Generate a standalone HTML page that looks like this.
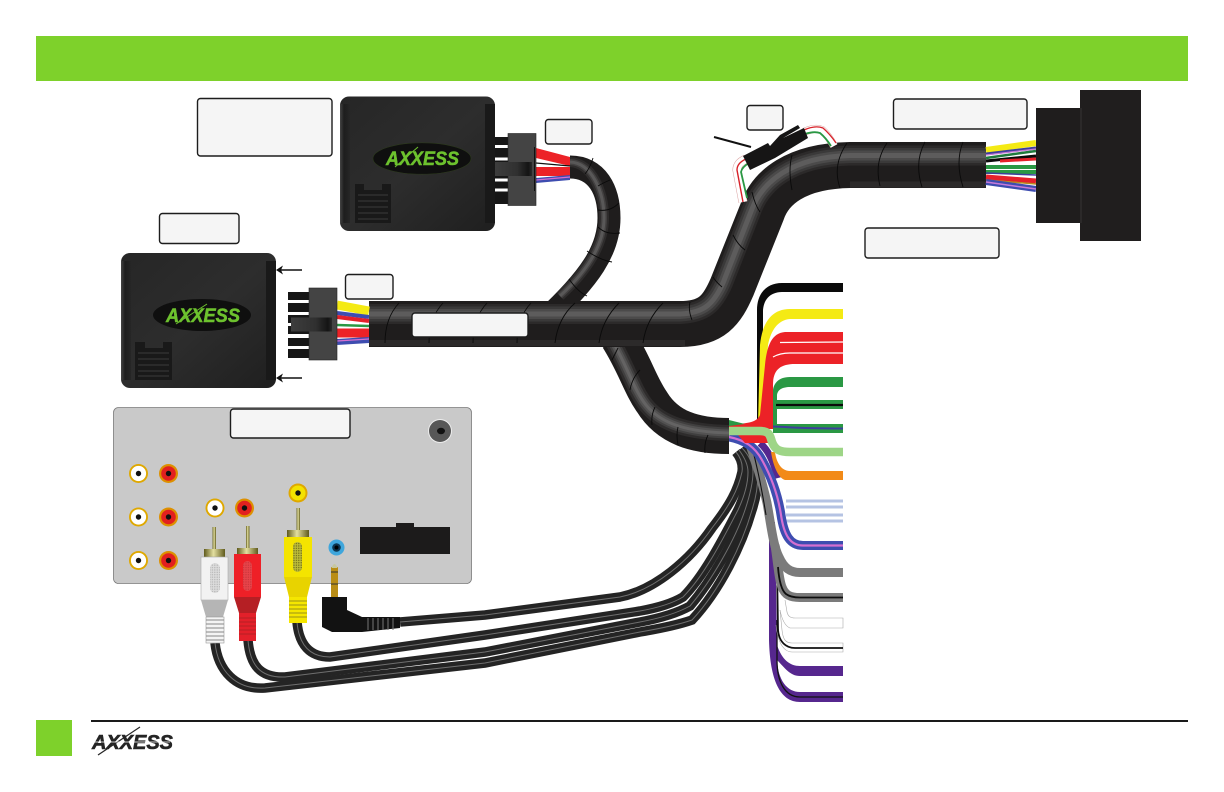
<!DOCTYPE html>
<html>
<head>
<meta charset="utf-8">
<style>
html,body{margin:0;padding:0;background:#fff;width:1224px;height:792px;overflow:hidden}
svg{display:block}
.lb{fill:#f5f5f5;stroke:#1d1d1d;stroke-width:1.4}
.logo{font-family:"Liberation Sans",sans-serif;font-weight:bold;font-style:italic}
.sp{fill:none;stroke:#0a0a0a;stroke-width:.9}
.tl{fill:none;stroke:#aaa;stroke-width:.6}
</style>
</head>
<body>
<svg width="1224" height="792" viewBox="0 0 1224 792" xmlns="http://www.w3.org/2000/svg">
<defs>
<linearGradient id="mod" x1="0" y1="0" x2="1" y2="1"><stop offset="0" stop-color="#262626"/><stop offset=".5" stop-color="#2d2d2d"/><stop offset="1" stop-color="#1f1f1f"/></linearGradient>
<linearGradient id="edgeL" x1="0" x2="1" y1="0" y2="0"><stop offset="0" stop-color="#444"/><stop offset=".4" stop-color="#1d1d1d"/><stop offset="1" stop-color="#262626"/></linearGradient>
<linearGradient id="clip" x1="0" x2="1" y1="0" y2="0"><stop offset="0" stop-color="#3d3d3d"/><stop offset=".6" stop-color="#303030"/><stop offset=".9" stop-color="#141414"/><stop offset="1" stop-color="#2a2a2a"/></linearGradient>
<linearGradient id="gold" x1="0" x2="1" y1="0" y2="0"><stop offset="0" stop-color="#5f5a1c"/><stop offset=".45" stop-color="#e3dfa0"/><stop offset="1" stop-color="#5f5a1c"/></linearGradient>
<pattern id="dots" width="2.4" height="2.4" patternUnits="userSpaceOnUse"><rect width="2.4" height="2.4" fill="#bdbd3a"/><circle cx="1.2" cy="1.2" r=".7" fill="#6d6a18"/></pattern>
<pattern id="dotsW" width="2.4" height="2.4" patternUnits="userSpaceOnUse"><rect width="2.4" height="2.4" fill="#dcdcdc"/><circle cx="1.2" cy="1.2" r=".7" fill="#b5b5b5"/></pattern>
<pattern id="dotsR" width="2.4" height="2.4" patternUnits="userSpaceOnUse"><rect width="2.4" height="2.4" fill="#e8444a"/><circle cx="1.2" cy="1.2" r=".7" fill="#c9343a"/></pattern>
<path id="mainHL" fill="none" d="M369 314 L680 314 C705 313 714 303 723 283 L752 209 C762 183 790 157 850 155.500 L986 155.500"/>
<path id="topHL" fill="none" d="M570 162 C592 163 604 192 604 218 C604 245 586 272 560 296"/>
<path id="brHL" fill="none" d="M612 340 C628 368 634 390 646 405 C662 425 690 432 729 433"/>
<path id="cA" fill="none" d="M400 622 L485 615 L620 597 C655 590 690 560 712 528 C730 505 738 490 742 472 C743 465 741 458 736 452"/>
<path id="cB" fill="none" d="M297 622 C299 645 310 657 330 657 L485 635 L640 611 Q668 606 683 597 C705 575 725 535 738 510 C745 495 748 482 748 472 C748 465 745 458 739 450"/>
<path id="cC" fill="none" d="M248 640 C250 665 260 678 285 677 L485 652 L640 622 Q672 616 690 606 C712 580 735 540 745 510 C750 495 753 482 753 472 C753 464 749 455 742 448"/>
<path id="cD" fill="none" d="M215 643 C218 670 235 690 265 688 L485 663 L640 632 Q675 626 692 620 C720 590 742 545 752 510 C757 495 758 482 758 472 C758 464 753 453 745 446"/>
</defs>

<rect x="36" y="36" width="1152" height="45" fill="#7ed12b"/>

<!-- panel -->
<rect x="113.500" y="407.500" width="358" height="176" rx="5" fill="#c9c9c9" stroke="#7a7a7a" stroke-width=".8"/>
<circle cx="440" cy="431" r="12" fill="#ededed"/><circle cx="440" cy="431" r="11" fill="#575757"/><ellipse cx="441" cy="431" rx="4" ry="3.2" fill="#111"/>
<g>
<g><circle cx="138.500" cy="473.500" r="9.500" fill="#dfa800"/><circle cx="138.500" cy="473.500" r="7.600" fill="#fff"/><circle cx="138.500" cy="473.500" r="2.700" fill="#111"/></g>
<g><circle cx="168.500" cy="473.500" r="9.500" fill="#dd9000"/><circle cx="168.500" cy="473.500" r="7.300" fill="#e2201f"/><circle cx="168.500" cy="473.500" r="2.700" fill="#111"/></g>
<g><circle cx="138.500" cy="517" r="9.500" fill="#dfa800"/><circle cx="138.500" cy="517" r="7.600" fill="#fff"/><circle cx="138.500" cy="517" r="2.700" fill="#111"/></g>
<g><circle cx="168.500" cy="517" r="9.500" fill="#dd9000"/><circle cx="168.500" cy="517" r="7.300" fill="#e2201f"/><circle cx="168.500" cy="517" r="2.700" fill="#111"/></g>
<g><circle cx="138.500" cy="560.500" r="9.500" fill="#dfa800"/><circle cx="138.500" cy="560.500" r="7.600" fill="#fff"/><circle cx="138.500" cy="560.500" r="2.700" fill="#111"/></g>
<g><circle cx="168.500" cy="560.500" r="9.500" fill="#dd9000"/><circle cx="168.500" cy="560.500" r="7.300" fill="#e2201f"/><circle cx="168.500" cy="560.500" r="2.700" fill="#111"/></g>
<g><circle cx="215" cy="508" r="9.500" fill="#dfa800"/><circle cx="215" cy="508" r="7.600" fill="#fff"/><circle cx="215" cy="508" r="2.700" fill="#111"/></g>
<g><circle cx="244.500" cy="508" r="9.500" fill="#dd9000"/><circle cx="244.500" cy="508" r="7.300" fill="#e2201f"/><circle cx="244.500" cy="508" r="2.700" fill="#111"/></g>
<g><circle cx="298" cy="493" r="9.500" fill="#dfa800"/><circle cx="298" cy="493" r="7.500" fill="#f3e200"/><circle cx="298" cy="493" r="2.700" fill="#111"/></g>
<g><circle cx="336.500" cy="547.500" r="8" fill="#3fa6dc"/><circle cx="336.500" cy="547.500" r="4.300" fill="#0c3550"/><circle cx="336.500" cy="547.500" r="2" fill="#000"/></g>
</g>
<rect x="360" y="527" width="90" height="27" fill="#1c1b1b"/><rect x="396" y="523" width="18" height="5" fill="#1c1b1b"/>

<!-- AV cables -->
<g stroke="#242424" stroke-width="9.500"><use href="#cA"/><use href="#cB"/><use href="#cC"/><use href="#cD"/></g>
<g stroke="#6f6f6f" stroke-width="1"><use href="#cA"/><use href="#cB"/><use href="#cC"/><use href="#cD"/></g>

<!-- plugs -->
<g>
<rect x="212.500" y="527" width="3.500" height="22" fill="url(#gold)"/>
<rect x="204" y="549" width="21" height="8" fill="url(#gold)"/>
<rect x="201" y="557" width="27" height="43" fill="#f2f2f2" stroke="#aaa" stroke-width=".6"/>
<rect x="210" y="563" width="10" height="30" rx="5" fill="url(#dotsW)"/>
<path d="M201 600 L228 600 L223 617 L206 617 Z" fill="#b5b5b5"/>
<rect x="206" y="617" width="18" height="26" fill="#f4f4f4" stroke="#999" stroke-width=".6"/>
<path d="M206 620H224M206 624H224M206 628H224M206 632H224M206 636H224M206 640H224" stroke="#888" stroke-width="1"/>
<rect x="246" y="526" width="3.500" height="22" fill="url(#gold)"/>
<rect x="237" y="548" width="21" height="7" fill="url(#gold)"/>
<rect x="234" y="554" width="27" height="43" fill="#ee2027"/>
<rect x="243" y="561" width="9" height="30" rx="4.500" fill="url(#dotsR)"/>
<path d="M234 597 L261 597 L256 613 L239 613 Z" fill="#b51f24"/>
<rect x="239" y="613" width="17" height="28" fill="#e3202a"/>
<path d="M239 618H256M239 622H256M239 626H256M239 630H256M239 634H256" stroke="#b51f24" stroke-width="1"/>
<rect x="296.500" y="508" width="3.500" height="22" fill="url(#gold)"/>
<rect x="287" y="530" width="22" height="7" fill="url(#gold)"/>
<rect x="284" y="537" width="28" height="40" fill="#f4e400"/>
<rect x="293" y="542" width="9" height="30" rx="4.500" fill="url(#dots)"/>
<path d="M284 577 L312 577 L307 597 L289 597 Z" fill="#e8d300"/>
<rect x="289" y="597" width="18" height="26" fill="#f5e600"/>
<path d="M289 601H307M289 605H307M289 609H307M289 613H307M289 617H307" stroke="#9c9218" stroke-width="1"/>
<rect x="331" y="567" width="7" height="31" fill="#b98d16"/>
<path d="M331 572H338M331 584H338" stroke="#333" stroke-width="1"/>
<path d="M331.500 568 Q334.500 560 337.500 568Z" fill="#c7c7a0"/>
<path d="M322 597 L347 597 L347 610 L362 617 L400 617 L400 628 L362 632 L332 632 L322 627 Z" fill="#121212"/>
<path d="M368 618V630M373 618V630M378 618V630M383 618V630M388 618V630M393 618V630" stroke="#777" stroke-width="1"/>
</g>

<!-- right fan wires -->
<g fill="none">
<!-- purple -->
<path d="M760 443 C768 450 773 460 778 478" stroke="#56278e" stroke-width="7"/>
<path d="M769 522 L769 640 C770 680 780 702 800 702 L843 702 L843 692 L800 692 C787 692 778 680 777 660 C785 668 790 676 800 676 L843 676 L843 666 L800 666 C790 666 782 660 777 645 L775 522Z" fill="#56278e"/>
<path d="M777 620 L777 660 C777 682 785 697 800 697 L843 697" stroke="#111" stroke-width="1.300"/>
<!-- white wires -->
<path class="tl" d="M785 600 L787 612 C788 616 790 618 795 618 L843 618 L843 628 L790 628 C785 626 782 620 780 610"/>
<path class="tl" d="M780 610 L782 630 C783 640 786 643 792 643 L843 643 L843 652 L792 652 C785 652 778 645 776 625"/>
<path d="M777 565 L778 630 C779 642 786 648 795 648 L843 648" stroke="#111" stroke-width="1.800"/>
<!-- gray -->
<path d="M775 545 C778 565 779 580 782 587 C785 595 790 597.500 800 597.500 L843 597.500" stroke="#7b7b7b" stroke-width="9"/>
<path d="M778 567 C779 580 781 590 786 594 C790 597 795 597.500 800 597.500 L843 597.500" stroke="#0e0e0e" stroke-width="1.800"/>
<path d="M750 445 C757 465 763 485 767 503 C771 525 773 545 779 557 C784 568 790 572.500 800 572.500 L843 572.500" stroke="#7b7b7b" stroke-width="9"/>
<path d="M752 447 C758 470 762 490 766 515" stroke="#111" stroke-width="1.100"/>
<!-- light blue -->
<path d="M786 501H843M786 507H843M786 515H843M786 521H843" stroke="#b5c3e3" stroke-width="3"/>
<!-- blue -->
<path d="M729 437 C745 440 755 447 762 460 C772 478 778 495 781 515 C784 535 790 545.500 803 545.500 L843 545.500" stroke="#3e4db0" stroke-width="9"/>
<path d="M729 437 C745 440 755 447 762 460 C772 478 778 495 781 515 C784 535 790 545.500 803 545.500 L843 545.500" stroke="#d56fd0" stroke-width="2.200"/>
<!-- orange -->
<path d="M771 452 L775 452 C776 460 780 471 790 471 L843 471 L843 480 L785 480 C778 478 773 465 771 452Z" fill="#f28a18"/>
<!-- black -->
<path d="M757 425 L757 310 C757 293 767 283 782 283 L843 283 L843 292 L782 292 C770 292 763 300 763 312 L763 425Z" fill="#0a0a0a"/>
<!-- yellow -->
<path d="M758 425 L760 345 C762 325 770 309 790 309 L843 309 L843 319 L790 319 C778 320 771 330 768 345 L762 425Z" fill="#f4ea14"/>
<!-- reds -->
<path d="M843 332 L785 332 C772 333 767 345 765 365 L760 415 C757 423 745 424 728 424 L728 429 L773 429 L773 385 C773 370 780 364 795 364 L843 364Z" fill="#ec2227"/>
<path d="M780 342.500 L843 342 M773 357 Q780 353 790 353 L843 353" stroke="#fff" stroke-width="1.200"/>
<!-- greens -->
<path d="M773 428 L773 390 C774 382 780 377 790 377 L843 377 L843 387 L790 387 C782 387 777 390 777 396 L777 428Z" fill="#2a9844"/>
<path d="M776 404.500 L843 404.500" stroke="#2a9844" stroke-width="9"/>
<path d="M776 405 L843 405" stroke="#0a0a0a" stroke-width="2.200"/>
<path d="M773 428.500 L843 428.500" stroke="#2a9844" stroke-width="9"/>
<path d="M773 426.500 C790 427 795 428.500 843 428.500" stroke="#3d3f9b" stroke-width="2"/>
<!-- red junction lower -->
<path d="M729 420 L745 424 L729 426Z" fill="#2a9844"/>
<path d="M737 434 L773 434 L773 443 L745 443Z" fill="#ec2227"/>
<!-- light green -->
<path d="M727 431 L760 431 C770 431 770 436 772 442 C775 450 780 452 790 452 L843 452" stroke="#9ed587" stroke-width="8.500"/>
</g>

<!-- side branches -->
<g>
<path d="M618 338 C635 365 640 385 652 402 C668 428 695 436 729 436" fill="none" stroke="#1f1d1d" stroke-width="36"/>
<g stroke="#fff"><use href="#brHL" stroke-width="16" stroke-opacity=".07"/><use href="#brHL" stroke-width="11" stroke-opacity=".09"/><use href="#brHL" stroke-width="7" stroke-opacity=".1"/><use href="#brHL" stroke-width="3" stroke-opacity=".1"/></g>
<path d="M618 348 L612 360M640 370 Q632 378 630 390M655 407 Q651 415 652 425M678 427 Q676 435 678 445M708 435 Q704 443 705 453" class="sp"/>
<path d="M570 167 C597 167 609 190 609 218 C609 250 590 278 545 320" fill="none" stroke="#1f1d1d" stroke-width="23"/>
<g stroke="#fff"><use href="#topHL" stroke-width="10" stroke-opacity=".07"/><use href="#topHL" stroke-width="6" stroke-opacity=".1"/><use href="#topHL" stroke-width="3" stroke-opacity=".12"/></g>
<path d="M593 158 Q590 168 585 174M610 180 Q603 183 598 186M619 203 Q610 212 598 210M620 233 Q606 235 598 227M612 262 Q600 260 587 251M587 296 Q578 292 569 279" class="sp"/>
</g>

<!-- main sleeve -->
<g>
<path d="M369 324 L680 324 C712 324 722 310 732 287 L762 212 C770 188 795 166 850 165 L986 165" fill="none" stroke="#1f1d1d" stroke-width="46"/>
<g stroke="#fff"><use href="#mainHL" stroke-width="20" stroke-opacity=".06"/><use href="#mainHL" stroke-width="15" stroke-opacity=".07"/><use href="#mainHL" stroke-width="10" stroke-opacity=".09"/><use href="#mainHL" stroke-width="5" stroke-opacity=".1"/></g>
<path d="M369 343 L685 343" stroke="#fff" stroke-opacity=".06" stroke-width="6"/>
<path d="M850 184.500 L986 184.500" stroke="#fff" stroke-opacity=".06" stroke-width="6"/>
<path d="M399 303 Q385 318 385 343M443 303 Q429 318 429 343M487 303 Q473 318 473 343M531 303 Q517 318 517 343M575 303 Q558 318 555 343M619 303 Q602 320 599 343M663 303 Q646 320 643 343M690 302 Q688 310 692 320" class="sp"/>
<path d="M847 143 Q832 165 840 188M887 143 Q874 162 880 186M925 142 Q914 162 922 187M963 142 Q955 162 963 187M792 155 Q788 170 792 190M752 192 Q755 205 760 212M733 235 Q738 245 745 250M713 277 Q716 282 722 287" class="sp"/>
</g>

<!-- wires to big connector -->
<g fill="none">
<path d="M986 150 L1036 143" stroke="#f4ea14" stroke-width="6"/>
<path d="M986 154 L1036 148" stroke="#3d3f9b" stroke-width="3"/>
<path d="M986 155 L1036 149" stroke="#c77ad8" stroke-width="1.200"/>
<path d="M986 158 L1036 151" stroke="#1f7a3c" stroke-width="2.500"/>
<path d="M986 161 L1036 156" stroke="#0a0a0a" stroke-width="3"/>
<path d="M1000 161 L1036 159" stroke="#e5202a" stroke-width="3"/>
<path d="M986 167 L1036 167" stroke="#2a9844" stroke-width="4"/>
<path d="M986 172 L1036 172" stroke="#2a9844" stroke-width="4"/>
<path d="M986 173 L1036 175" stroke="#3d3f9b" stroke-width="1.500"/>
<path d="M986 177 L1036 181" stroke="#e5202a" stroke-width="5"/>
<path d="M986 180 L1036 184" stroke="#b88a20" stroke-width="1.500"/>
<path d="M986 182 L1036 189" stroke="#3e4db0" stroke-width="6"/>
<path d="M986 182 L1036 189" stroke="#c77ad8" stroke-width="1.500"/>
</g>
<rect x="1036" y="108" width="44" height="115" fill="#1f1d1d"/>
<rect x="1080" y="90" width="61" height="151" fill="#201e1e"/>
<rect x="1080" y="108" width="2" height="115" fill="#2b2929"/>

<!-- small connector w/ wires -->
<g fill="none">
<path d="M804 132 Q815 127 822 130 Q828 135 834 146" stroke="#d9a0a0" stroke-width="8"/>
<path d="M804 132 Q815 127 822 130 Q828 135 834 146" stroke="#fff" stroke-width="7"/>
<path d="M804 130 Q815 125 823 128 Q830 134 836 143" stroke="#d8222a" stroke-width="1.300"/>
<path d="M805 134 Q814 131 820 133 Q826 138 831 146" stroke="#2a9844" stroke-width="1.800"/>
<path d="M746 159 Q737 163 737 170 L743 202" stroke="#d9a0a0" stroke-width="9"/>
<path d="M746 159 Q737 163 737 170 L743 202" stroke="#fff" stroke-width="8"/>
<path d="M746 159 Q737 163 737 170 L743 202" stroke="#d8222a" stroke-width="1.400"/>
<path d="M749 163 Q742 167 741 172 L747 198" stroke="#2a9844" stroke-width="1.800"/>
</g>
<path d="M743 156 L768 143 L770 146 L780 135 L798 125 L800 128 L783 138 L804 128 L808 138 L775 158 L750 170 Z" fill="#161515"/>
<path d="M714 137 L751 147" stroke="#111" stroke-width="2"/>

<!-- top module -->
<rect x="340" y="96.500" width="155" height="134.500" rx="9" fill="url(#mod)"/>
<rect x="340" y="104" width="10" height="119" fill="url(#edgeL)"/>
<rect x="485" y="104" width="10" height="119" fill="#191919"/>
<ellipse cx="422" cy="158.500" rx="49" ry="15.700" fill="#0f0f0f"/><ellipse cx="422" cy="158.500" rx="49" ry="15.700" fill="none" stroke="#2c3a1c" stroke-width=".6"/>
<text class="logo" x="386" y="165" font-size="19.500" fill="#6dc22e" stroke="#6dc22e" stroke-width=".5" textLength="73" lengthAdjust="spacingAndGlyphs">AXXESS</text>
<path d="M395 167 L418 147" stroke="#6dc22e" stroke-width="1"/>
<path d="M355 184H364V190H382V184H391V223H355Z" fill="#191919"/>
<path d="M358 195H388M358 201H388M358 207H388M358 213H388M358 219H388" stroke="#3a3a3a" stroke-width="1"/>

<!-- top connector -->
<rect x="495" y="137" width="14" height="67" fill="#161616"/>
<path d="M495 146.500H508M495 159H508M495 180H508M495 190H508" stroke="#fff" stroke-width="3"/>
<path d="M536 148 L570 157 L570 166 L536 158Z" fill="#ec2227"/>
<path d="M536 167 L570 167 L570 176 L536 176Z" fill="#ec2227"/>
<path d="M536 163 L570 166" stroke="#111" stroke-width="1.200"/>
<path d="M536 178 L570 175 L570 180 L536 183Z" fill="#3e4db0"/><path d="M536 180 L570 177" stroke="#d56fd0" stroke-width="1.200"/>
<rect x="508" y="133.500" width="28" height="72" fill="#444" stroke="#222" stroke-width=".6"/>
<rect x="495" y="162" width="37" height="14" fill="url(#clip)"/>
<rect x="534" y="147" width="1" height="44" fill="#111"/>

<!-- left module -->
<rect x="121" y="253" width="155" height="135" rx="9" fill="url(#mod)"/>
<rect x="121" y="261" width="10" height="119" fill="url(#edgeL)"/>
<rect x="266" y="261" width="10" height="119" fill="#191919"/>
<ellipse cx="202" cy="315" rx="49" ry="16" fill="#0f0f0f"/>
<text class="logo" x="166" y="322" font-size="19.500" fill="#6dc22e" stroke="#6dc22e" stroke-width=".5" textLength="74" lengthAdjust="spacingAndGlyphs">AXXESS</text>
<path d="M176 324 L207 304" stroke="#6dc22e" stroke-width="1"/>
<path d="M135 342H145V348H163V342H172V380H135Z" fill="#191919"/>
<path d="M138 353H169M138 359H169M138 365H169M138 371H169M138 376H169" stroke="#3a3a3a" stroke-width="1"/>

<!-- arrows -->
<path d="M302 270H280" stroke="#111" stroke-width="1.500"/><path d="M276 270 L283 265.500 L281 270 L283 274.500Z" fill="#111"/>
<path d="M302 378H280" stroke="#111" stroke-width="1.500"/><path d="M276 378 L283 373.500 L281 378 L283 382.500Z" fill="#111"/>

<!-- left connector pins -->
<g fill="#161616"><rect x="288" y="292" width="22" height="8"/><rect x="288" y="303" width="22" height="9"/><rect x="288" y="315" width="22" height="8"/><rect x="288" y="326" width="22" height="8"/><rect x="288" y="338" width="22" height="8"/><rect x="288" y="349" width="22" height="9"/></g>
<g fill="none">
<path d="M337 305 L369 311" stroke="#f4ea14" stroke-width="9"/>
<path d="M337 313 L369 317" stroke="#3e4db0" stroke-width="4"/>
<path d="M337 317 L369 321" stroke="#e5202a" stroke-width="4"/>
<path d="M337 325 L369 326" stroke="#2a9844" stroke-width="2.500"/>
<path d="M337 333 L369 333" stroke="#ec2227" stroke-width="9"/>
<path d="M337 342 L369 340" stroke="#3e4db0" stroke-width="6"/>
<path d="M337 341 L369 339" stroke="#d56fd0" stroke-width="1.300"/>
</g>
<rect x="309" y="288" width="28" height="72" fill="#444" stroke="#222" stroke-width=".6"/>
<rect x="291" y="317.500" width="41" height="14" fill="url(#clip)"/>

<!-- labels -->
<rect class="lb" x="197.500" y="98.500" width="134.500" height="57.500" rx="3"/>
<rect class="lb" x="159.500" y="213.500" width="79.500" height="30" rx="3"/>
<rect class="lb" x="545.500" y="119.500" width="46.500" height="24.500" rx="3"/>
<rect class="lb" x="345.500" y="274.500" width="47.500" height="24.500" rx="3"/>
<rect class="lb" x="412" y="313" width="116" height="24" rx="3"/>
<rect class="lb" x="747" y="105.500" width="36" height="24.500" rx="3"/>
<rect class="lb" x="893.500" y="99" width="133.500" height="30" rx="3"/>
<rect class="lb" x="865" y="228" width="134" height="30" rx="3"/>
<rect class="lb" x="230.500" y="409" width="119.500" height="29" rx="3"/>

<!-- footer -->
<rect x="91" y="720" width="1097" height="2" fill="#1a1a1a"/>
<rect x="36" y="720" width="36" height="36" fill="#7ed12b"/>
<text class="logo" x="92" y="749" font-size="20" fill="#242424" stroke="#242424" stroke-width=".6" textLength="81" lengthAdjust="spacingAndGlyphs">AXXESS</text>
<path d="M98 755 L140 727" stroke="#242424" stroke-width="1.200"/>
<path d="M92 742H170" stroke="#fff" stroke-width="1.200" opacity=".6"/>
</svg>
</body>
</html>
